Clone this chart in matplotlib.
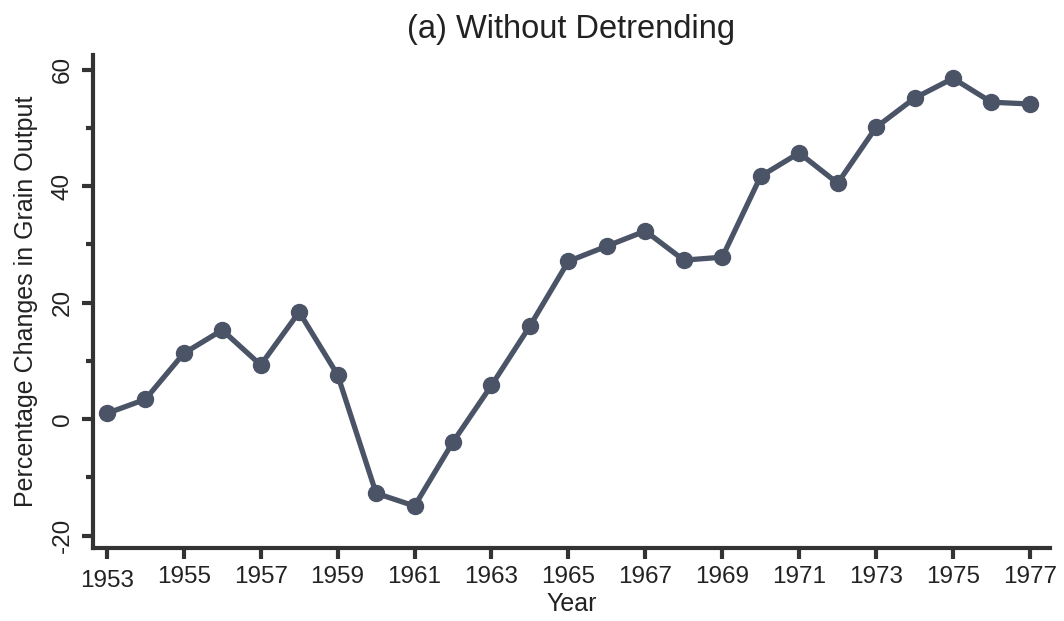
import numpy as np
import matplotlib
matplotlib.use("Agg")
import matplotlib.pyplot as plt
from matplotlib.ticker import MultipleLocator

plt.rcParams['font.family'] = ['Liberation Sans', 'DejaVu Sans']

# data
years = list(range(1953, 1978))
pct_change = [1.0, 3.4, 11.3, 15.3, 9.3, 18.4, 7.6, -12.7, -14.9, -3.9,
              5.8, 16.0, 27.1, 29.7, 32.3, 27.3, 27.8, 41.7, 45.7, 40.5,
              50.1, 55.1, 58.5, 54.4, 54.1]
xtick_years = list(range(1953, 1978, 2))
ytick_vals = [-20, 0, 20, 40, 60]

line_col = '#4a5466'
axis_col = '#333333'

fig = plt.figure(figsize=(10.64, 6.21), dpi=100)
ax = fig.add_axes([0.0874, 0.1176, 0.8994, 0.7938])

ax.plot(years, pct_change, color=line_col, lw=3.8, marker='o', ms=11.5,
        solid_capstyle='round')

ax.set_xlim(1952.64, 1977.52)
ax.set_ylim(-22.1, 62.5)
ax.set_xticks(xtick_years)
ax.set_xticklabels([str(y) for y in xtick_years])
ax.set_yticks(ytick_vals)
ax.set_yticklabels([str(v) for v in ytick_vals], rotation=90, va='center')
ax.yaxis.set_minor_locator(MultipleLocator(10))

for side in ['top', 'right']:
    ax.spines[side].set_visible(False)
for side in ['left', 'bottom']:
    ax.spines[side].set_color(axis_col)
    ax.spines[side].set_linewidth(3)

ax.tick_params(axis='both', which='major', length=8, width=3, color=axis_col,
               labelsize=17.5, labelcolor='#222222')
ax.tick_params(axis='y', which='minor', length=5, width=3, color=axis_col)
ax.tick_params(axis='x', pad=5)
ax.tick_params(axis='y', pad=6)

# the first year label sits a little lower in the original
ax.get_xticklabels()[0].set_y(-0.008)

ax.set_xlabel('Year', fontsize=18, color='#222222', labelpad=0)
ax.set_ylabel('Percentage Changes in Grain Output', fontsize=18,
              color='#222222', labelpad=10)
ax.set_title('(a) Without Detrending', fontsize=23.5, color='#222222', pad=12)

fig.savefig('out.png', dpi=100)
